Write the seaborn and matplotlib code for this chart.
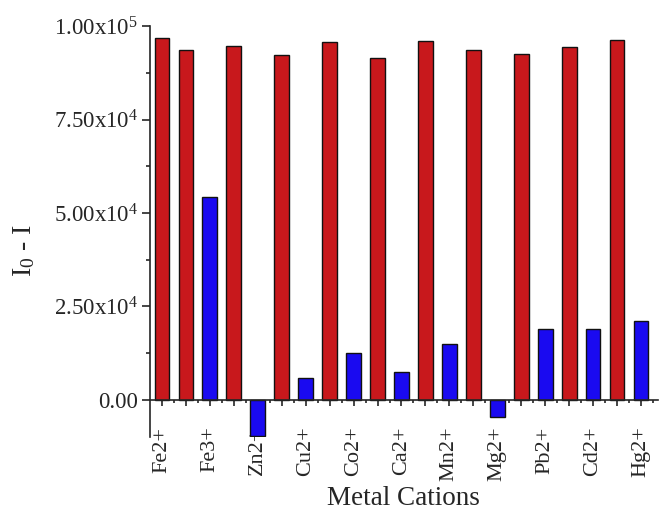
import numpy as np
import pandas as pd
import matplotlib
matplotlib.use("Agg")
import matplotlib.pyplot as plt
import seaborn as sns
from matplotlib.ticker import MultipleLocator

# data
cations = ["Fe2+", "Fe3+", "Zn2+", "Cu2+", "Co2+", "Ca2+",
           "Mn2+", "Mg2+", "Pb2+", "Cd2+", "Hg2+"]
cation_pos = [1, 3, 5, 7, 9, 11, 13, 15, 17, 19, 21]

red_pos = [1, 2, 4, 6, 8, 10, 12, 14, 16, 18, 20]
red_vals = [96800, 93700, 94700, 92400, 95700, 91500,
            96100, 93600, 92600, 94400, 96200]

blue_pos = [3, 5, 7, 9, 11, 13, 15, 17, 19, 21]
blue_vals = [54200, -9800, 5700, 12400, 7300, 14900,
             -4650, 18800, 18800, 21100]

ytick_vals = [0, 25000, 50000, 75000, 100000]
ytick_labels = ["0.00", r"2.50x10$^{4}$", r"5.00x10$^{4}$",
                r"7.50x10$^{4}$", r"1.00x10$^{5}$"]

df = pd.DataFrame({
    "pos": red_pos + blue_pos,
    "value": red_vals + blue_vals,
    "series": ["red"] * len(red_pos) + ["blue"] * len(blue_pos),
})

sns.set_style("ticks")
plt.rcParams["font.family"] = ["Liberation Serif", "DejaVu Serif"]
plt.rcParams["mathtext.fontset"] = "custom"
plt.rcParams["mathtext.rm"] = "Liberation Serif"
plt.rcParams["mathtext.it"] = "Liberation Serif:italic"

fig = plt.figure(figsize=(6.61, 5.13), dpi=100)
ax = fig.add_axes([0.227, 0.148, 0.768, 0.801])

sns.barplot(data=df, x="pos", y="value", hue="series", native_scale=True,
            dodge=False, palette={"red": "#c8181c", "blue": "#1a0af0"},
            saturation=1, width=0.62, edgecolor="#111111", linewidth=1.0,
            legend=False, ax=ax)

ax.set_xlim(0.5, 21.7)
ax.set_ylim(-10000, 100000)

ax.spines["top"].set_visible(False)
ax.spines["right"].set_visible(False)
ax.spines["bottom"].set_position(("data", 0))
for s in ["left", "bottom"]:
    ax.spines[s].set_linewidth(1.2)

ax.set_yticks(ytick_vals)
ax.set_yticklabels(ytick_labels, fontsize=16.5)
ax.yaxis.set_minor_locator(MultipleLocator(12500))

ax.set_xticks(list(range(1, 22)))
ax.set_xticklabels([cations[cation_pos.index(p)] if p in cation_pos else ""
                    for p in range(1, 22)], rotation=90, fontsize=16)
ax.set_xticks(np.arange(1.5, 22, 1.0), minor=True)

ax.tick_params(axis="y", which="major", direction="out", length=5.8, width=1.2, pad=3)
ax.tick_params(axis="y", which="minor", direction="out", length=3.2, width=1.2)
ax.tick_params(axis="x", which="major", direction="out", length=4.3, width=1.2, pad=15)
ax.tick_params(axis="x", which="minor", direction="out", length=2.4, width=1.2)

ax.set_xlabel("Metal Cations", fontsize=19.5)
ax.set_ylabel(r"I$_0$ - I", fontsize=20)
ax.xaxis.set_label_coords(0.5, -0.118)
ax.yaxis.set_label_coords(-0.222, 0.455)

fig.savefig("out.png", dpi=100)
